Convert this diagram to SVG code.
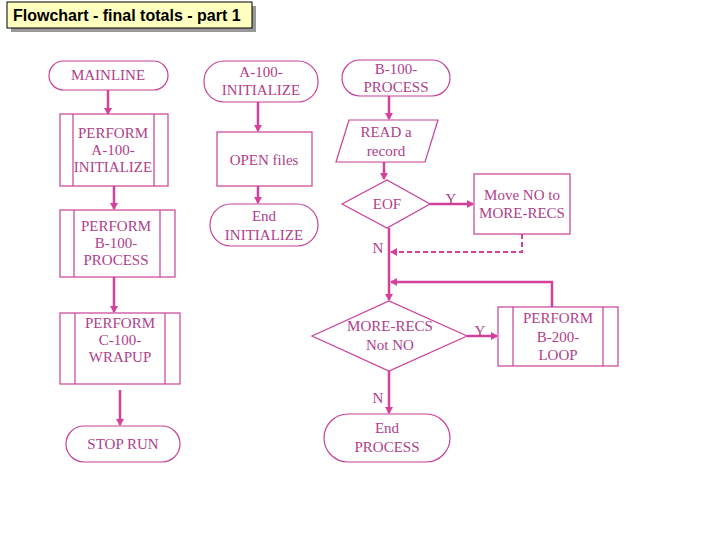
<svg xmlns="http://www.w3.org/2000/svg" width="720" height="540" viewBox="0 0 720 540">
<style>
.s{fill:#fff;stroke:#c8409a;stroke-width:1.2}
.t{font-family:"Liberation Serif",serif;font-size:15px;fill:#b0408a;text-anchor:middle}
.c{stroke:#d4409a;stroke-width:2.5;fill:none}
.d{stroke:#d4409a;stroke-width:2;fill:none;stroke-dasharray:5,3}
</style>
<defs><marker id="a" markerWidth="8" markerHeight="8" refX="6" refY="4" orient="auto" markerUnits="userSpaceOnUse"><path d="M0,0L7,4L0,8z" fill="#d4409a"/></marker></defs>
<rect width="720" height="540" fill="#fff"/>
<g id="title"><rect x="11" y="6" width="245" height="26" fill="#999"/><rect x="7" y="2" width="245" height="26" fill="#ffffc0" stroke="#000"/><text x="13" y="21" font-family="Liberation Sans,sans-serif" font-size="16" font-weight="bold">Flowchart - final totals - part 1</text></g>
<g id="connectors">
<path class="c" d="M108,90V114" marker-end="url(#a)"/>
<path class="c" d="M114,186V209" marker-end="url(#a)"/>
<path class="c" d="M114,277V312" marker-end="url(#a)"/>
<path class="c" d="M120,390V425" marker-end="url(#a)"/>
<path class="c" d="M258,102V131" marker-end="url(#a)"/>
<path class="c" d="M258,186V203" marker-end="url(#a)"/>
<path class="c" d="M389,96V119" marker-end="url(#a)"/>
<path class="c" d="M384,162V179" marker-end="url(#a)"/>
<path class="c" d="M430,204H473" marker-end="url(#a)"/>
<path class="d" d="M522,234V252H391" marker-end="url(#a)"/>
<path class="c" d="M389,228V300" marker-end="url(#a)"/>
<path class="c" d="M552,307V282H391" marker-end="url(#a)"/>
<path class="c" d="M467,336H497" marker-end="url(#a)"/>
<path class="c" d="M389,371V413" marker-end="url(#a)"/>
<text class="t" x="451" y="204">Y</text>
<text class="t" x="378" y="253">N</text>
<text class="t" x="480" y="336">Y</text>
<text class="t" x="378" y="403">N</text>
</g>
<g id="mainline"><rect class="s" x="49" y="61" width="119" height="29" rx="14.5"/><text class="t" x="108" y="80">MAINLINE</text></g>
<g id="pa"><rect class="s" x="60" y="114" width="108" height="72"/><path class="s" d="M73,114V186M154,114V186"/><text class="t" x="113" y="138">PERFORM</text><text class="t" x="113" y="155">A-100-</text><text class="t" x="113" y="172">INITIALIZE</text></g>
<g id="pb"><rect class="s" x="60" y="210" width="115" height="67"/><path class="s" d="M74,210V277M160,210V277"/><text class="t" x="116" y="231">PERFORM</text><text class="t" x="116" y="248">B-100-</text><text class="t" x="116" y="265">PROCESS</text></g>
<g id="pc"><rect class="s" x="60" y="313" width="120" height="71"/><path class="s" d="M75,313V384M165,313V384"/><text class="t" x="120" y="328">PERFORM</text><text class="t" x="120" y="345">C-100-</text><text class="t" x="120" y="362">WRAPUP</text></g>
<g id="stop"><rect class="s" x="66" y="426" width="114" height="36" rx="18"/><text class="t" x="123" y="449">STOP RUN</text></g>
<g id="ainit"><rect class="s" x="204" y="61" width="114" height="41" rx="20"/><text class="t" x="261" y="77">A-100-</text><text class="t" x="261" y="95">INITIALIZE</text></g>
<g id="open"><rect class="s" x="217" y="132" width="95" height="54"/><text class="t" x="264" y="165">OPEN files</text></g>
<g id="endinit"><rect class="s" x="210" y="204" width="108" height="42" rx="21"/><text class="t" x="264" y="221">End</text><text class="t" x="264" y="240">INITIALIZE</text></g>
<g id="bproc"><rect class="s" x="342" y="60" width="108" height="36" rx="18"/><text class="t" x="396" y="74">B-100-</text><text class="t" x="396" y="92">PROCESS</text></g>
<g id="read"><path class="s" d="M349,120H438L425,162H336Z"/><text class="t" x="386" y="137">READ a</text><text class="t" x="386" y="156">record</text></g>
<g id="eof"><path class="s" d="M342,204L387,180L430,204L387,228Z"/><text class="t" x="387" y="209">EOF</text></g>
<g id="move"><rect class="s" x="474" y="174" width="96" height="60"/><text class="t" x="522" y="200">Move NO to</text><text class="t" x="522" y="218">MORE-RECS</text></g>
<g id="more"><path class="s" d="M312,336L389,301L467,336L389,371Z"/><text class="t" x="390" y="331">MORE-RECS</text><text class="t" x="390" y="350">Not NO</text></g>
<g id="pb200"><rect class="s" x="498" y="307" width="120" height="59"/><path class="s" d="M513,307V366M603,307V366"/><text class="t" x="558" y="323">PERFORM</text><text class="t" x="558" y="342">B-200-</text><text class="t" x="558" y="360">LOOP</text></g>
<g id="endproc"><rect class="s" x="324" y="414" width="126" height="48" rx="24"/><text class="t" x="387" y="433">End</text><text class="t" x="387" y="452">PROCESS</text></g>
</svg>
